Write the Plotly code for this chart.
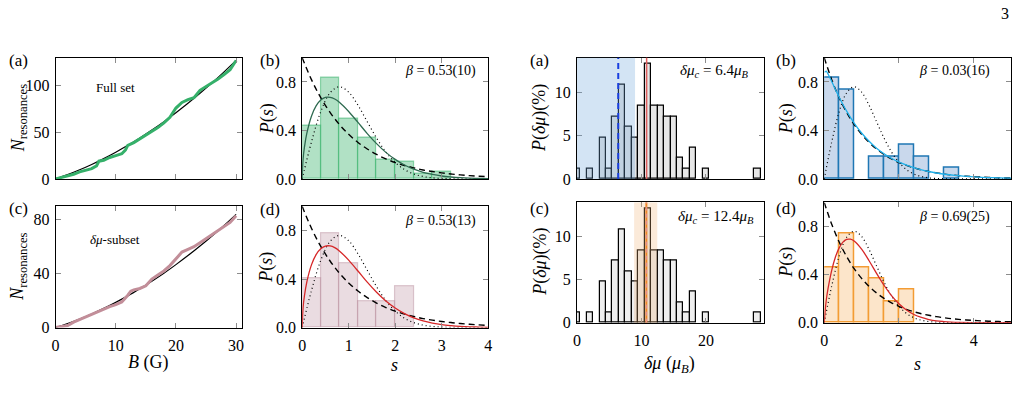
import plotly.graph_objects as go

W, H = 1023, 404
SERIF = "Liberation Serif, DejaVu Serif, serif"

# ---------------- data ----------------
# (a) full set staircase and fit
B_full = [0, 1, 2, 3, 4, 5, 6, 6.8, 7.2, 8, 9, 10, 11, 11.6, 12, 13, 14, 15, 16, 17,
          18, 19, 20, 21, 22, 23, 24, 25, 26, 27, 28, 29, 30]
N_full = [0, 1.5, 3, 5, 7.5, 9, 11, 14, 19, 20, 23, 25, 27, 31, 36, 39, 43, 47, 51, 55,
          60, 66, 76, 82, 85, 87, 95, 99, 103, 107, 112, 117, 127]
B_fit = [0, 2, 4, 6, 8, 10, 12, 14, 16, 18, 20, 22, 24, 26, 28, 30]
N_fit_full = [0, 4.6, 9.8, 15.5, 21.8, 28.6, 36.0, 43.9, 52.4, 61.4, 71.0, 81.1, 91.8, 103.0, 114.8, 127.1]
# (c) delta-mu subset staircase and fit
B_sub = [0, 1, 2, 3, 4, 5, 6, 7, 8, 9, 10, 11, 12, 12.5, 13, 14, 15, 16, 17, 18, 19,
         20, 21, 22, 23, 24, 25, 26, 27, 28, 29, 30]
N_sub = [0, 0.5, 1.5, 4, 6, 8, 10, 12, 13.5, 15.5, 17, 19, 24, 27, 28, 29, 31, 36, 39,
         42, 46, 51, 56, 58, 60, 63, 66, 69, 72, 75, 78, 83]
N_fit_sub = [0, 3.0, 6.35, 10.1, 14.2, 18.7, 23.5, 28.8, 34.4, 40.3, 46.7, 53.4, 60.5, 68.0, 75.8, 84.0]

# spacing distributions
s_grid = [0, 0.2, 0.4, 0.6, 0.8, 1.0, 1.2, 1.4, 1.6, 1.8, 2.0, 2.2, 2.4, 2.6, 2.8, 3.0,
          3.2, 3.4, 3.6, 3.8, 4.0, 4.2, 4.4, 4.6, 4.8, 5.0]
poisson = [1.0, 0.819, 0.670, 0.549, 0.449, 0.368, 0.301, 0.247, 0.202, 0.165, 0.135,
           0.111, 0.091, 0.074, 0.061, 0.050, 0.041, 0.033, 0.027, 0.022, 0.018, 0.015,
           0.012, 0.010, 0.008, 0.007]
wigner = [0, 0.304, 0.554, 0.710, 0.760, 0.716, 0.608, 0.472, 0.337, 0.222, 0.136,
          0.077, 0.041, 0.020, 0.009, 0.004, 0.0016, 0.0006, 0.0002, 0, 0, 0, 0, 0, 0, 0]

s_b053 = [0, 0.02, 0.05, 0.1, 0.2, 0.3, 0.4, 0.5, 0.6, 0.7, 0.8, 1.0, 1.2, 1.4, 1.6, 1.8,
          2.0, 2.2, 2.4, 2.6, 2.8, 3.0, 3.2, 3.4, 3.6, 3.8, 4.0]
P_b053 = [0, 0.164, 0.264, 0.375, 0.517, 0.602, 0.650, 0.672, 0.673, 0.659, 0.632, 0.556,
          0.466, 0.374, 0.291, 0.219, 0.161, 0.115, 0.080, 0.055, 0.037, 0.024, 0.016,
          0.010, 0.006, 0.004, 0.002]
s_b003 = [0.01, 0.05, 0.1, 0.2, 0.4, 0.6, 0.8, 1.0, 1.2, 1.4, 1.6, 1.8, 2.0, 2.5, 3.0,
          3.5, 4.0, 4.5, 5.0]
P_b003 = [0.878, 0.889, 0.866, 0.803, 0.674, 0.559, 0.461, 0.379, 0.311, 0.254, 0.208,
          0.170, 0.138, 0.083, 0.049, 0.029, 0.017, 0.010, 0.006]
s_b069 = [0, 0.05, 0.1, 0.2, 0.3, 0.4, 0.5, 0.6, 0.7, 0.8, 1.0, 1.2, 1.4, 1.6, 1.8, 2.0,
          2.2, 2.4, 2.6, 2.8, 3.0, 3.2, 3.4, 3.6, 4.0, 5.0]
P_b069 = [0, 0.176, 0.280, 0.435, 0.546, 0.622, 0.670, 0.692, 0.694, 0.679, 0.611, 0.515,
          0.410, 0.311, 0.225, 0.157, 0.105, 0.068, 0.043, 0.026, 0.015, 0.009, 0.005,
          0.0025, 0.0006, 0]

s_bins_b = [0.2, 0.6, 1.0, 1.4, 1.8, 2.2, 2.6, 3.0]
P_hist_full = [0.44, 0.835, 0.50, 0.34, 0.16, 0.14, 0.045, 0.06]
s_bins_d = [0.2, 0.6, 1.0, 1.4, 1.8, 2.2]
P_hist_sub = [0.41, 0.78, 0.53, 0.22, 0.22, 0.34]
s_bins_rb = [0.2, 0.6, 1.4, 1.8, 2.2, 2.6, 3.4]
P_hist_rb = [0.835, 0.74, 0.18, 0.18, 0.28, 0.18, 0.09]
s_bins_rd = [0.2, 0.6, 1.0, 1.4, 1.8, 2.2]
P_hist_rd = [0.46, 0.745, 0.46, 0.37, 0.18, 0.28]

# delta-mu histogram (%)
dmu_bins = [0, 2, 4, 5, 6, 7, 8, 9, 10, 11, 12, 13, 14, 15, 16, 17, 18, 20, 28]
dmu_pct = [1.2, 1.2, 4.82, 1.2, 7.23, 10.84, 6.02, 4.82, 8.43, 13.25, 8.43, 8.43, 7.23,
           7.23, 2.41, 1.2, 3.61, 1.2, 1.2]
dmu_c_a = 6.4
dmu_shade_a = [0, 9.0]
dmu_red = 10.8
dmu_band_c = [8.86, 12.45]
dmu_orange = 10.76

# ---------------- layout helpers ----------------
def px(x):
    return x / W

def py(y):
    return 1 - y / H

XD = [[px(52), px(240)], [px(300.5), px(488)], [px(577.5), px(766)], [px(826.7), px(1015)]]
YT = [py(183), py(59)]
YBL = [py(335), py(211)]
YBR = [py(330), py(207)]

fig = go.Figure()

def axstyle(**kw):
    d = dict(showline=True, linecolor="black", linewidth=1, mirror="allticks",
             ticks="inside", ticklen=5, tickwidth=1, tickcolor="#8c8c8c",
             showgrid=False, zeroline=False,
             tickfont=dict(family=SERIF, size=16, color="black"))
    d.update(kw)
    return d

lay = {}
specs = [
    (1, XD[0], YT, [0, 31], [0, 130], [0, 10, 20, 30], [0, 50, 100], False, None),
    (2, XD[1], YT, [0, 4], [0, 1.0], [0, 1, 2, 3, 4], [0, 0.4, 0.8], False, ".1f"),
    (3, XD[2], YT, [0, 29], [0, 14], [0, 10, 20], [0, 5, 10], False, None),
    (4, XD[3], YT, [0, 5], [0, 1.0], [0, 2, 4], [0, 0.4, 0.8], False, ".1f"),
    (5, XD[0], YBL, [0, 31], [0, 90], [0, 10, 20, 30], [0, 40, 80], True, None),
    (6, XD[1], YBL, [0, 4], [0, 1.0], [0, 1, 2, 3, 4], [0, 0.4, 0.8], True, ".1f"),
    (7, XD[2], YBR, [0, 29], [0, 14], [0, 10, 20], [0, 5, 10], True, None),
    (8, XD[3], YBR, [0, 5], [0, 1.0], [0, 2, 4], [0, 0.4, 0.8], True, ".1f"),
]
for i, xd, yd, xr, yr, xt, yt, showx, yfmt in specs:
    sx = "" if i == 1 else str(i)
    xa = axstyle(domain=xd, range=xr, tickvals=xt, showticklabels=showx,
                 anchor="y" + sx, ticklabelstandoff=3)
    ya = axstyle(domain=yd, range=yr, tickvals=yt, anchor="x" + sx, ticklabelstandoff=2)
    if yfmt:
        ya["tickformat"] = yfmt
    lay["xaxis" + sx] = xa
    lay["yaxis" + sx] = ya

def ax(i):
    return ("x", "y") if i == 1 else ("x" + str(i), "y" + str(i))

def line(i, x, y, color, width=1.3, dash="solid", shape="linear"):
    xa, ya = ax(i)
    fig.add_trace(go.Scatter(x=x, y=y, mode="lines", xaxis=xa, yaxis=ya,
                             line=dict(color=color, width=width, dash=dash, shape=shape),
                             showlegend=False, hoverinfo="skip"))

def bars(i, x, y, width, fill, edge, ew=1):
    xa, ya = ax(i)
    fig.add_trace(go.Bar(x=x, y=y, width=width, xaxis=xa, yaxis=ya,
                         marker=dict(color=fill, line=dict(color=edge, width=ew)),
                         showlegend=False, hoverinfo="skip"))

# (a) left: staircase
line(1, B_fit, N_fit_full, "black", 1.2, shape="spline")
line(1, B_full, N_full, "#35b06a", 3)
# (c) left
line(5, B_fit, N_fit_sub, "black", 1.2, shape="spline")
line(5, B_sub, N_sub, "#c28e99", 3)

# (b) left
bars(2, s_bins_b, P_hist_full, 0.4, "rgba(60,180,110,0.40)", "rgba(60,180,110,0.55)", 1.2)
line(2, s_grid, poisson, "black", 1.4, dash="6px,4px", shape="spline")
line(2, s_grid, wigner, "black", 1.2, dash="1px,3px", shape="spline")
line(2, s_b053, P_b053, "#2e6a50", 1.3, shape="spline")
# (d) left
bars(6, s_bins_d, P_hist_sub, 0.4, "rgba(185,140,155,0.30)", "rgba(185,140,155,0.45)", 1.2)
line(6, s_grid, poisson, "black", 1.4, dash="6px,4px", shape="spline")
line(6, s_grid, wigner, "black", 1.2, dash="1px,3px", shape="spline")
line(6, s_b053, P_b053, "#d62728", 1.3, shape="spline")

# right (a) and (c): delta-mu histograms
bars(3, dmu_bins, dmu_pct, 1.0, "#e6e6e6", "black", 1.2)
bars(7, dmu_bins, dmu_pct, 1.0, "#eeeeee", "black", 1.2)

# right (b)
bars(4, s_bins_rb, P_hist_rb, 0.4, "#c9d8ec", "#1f77b4", 1.5)
line(4, s_grid, poisson, "black", 1.4, dash="6px,4px", shape="spline")
line(4, s_grid, wigner, "black", 1.2, dash="1px,3px", shape="spline")
line(4, s_b003, P_b003, "#1fb0ea", 1.3, shape="spline")
# right (d)
bars(8, s_bins_rd, P_hist_rd, 0.4, "#fce5ca", "#f39c34", 1.5)
line(8, s_grid, poisson, "black", 1.4, dash="6px,4px", shape="spline")
line(8, s_grid, wigner, "black", 1.2, dash="1px,3px", shape="spline")
line(8, s_b069, P_b069, "#d62728", 1.3, shape="spline")

shapes = [
    dict(type="rect", xref="x3", yref="y3 domain", x0=dmu_shade_a[0], x1=dmu_shade_a[1],
         y0=0, y1=1, fillcolor="rgba(110,165,220,0.30)", line=dict(width=0), layer="above"),
    dict(type="line", xref="x3", yref="y3 domain", x0=dmu_c_a, x1=dmu_c_a, y0=0, y1=1,
         line=dict(color="#1a3fe0", width=2, dash="6px,4px"), layer="above"),
    dict(type="line", xref="x3", yref="y3 domain", x0=dmu_red, x1=dmu_red, y0=0, y1=1,
         line=dict(color="#e06060", width=1.5), layer="above"),
    dict(type="rect", xref="x7", yref="y7 domain", x0=dmu_band_c[0], x1=dmu_band_c[1],
         y0=0, y1=1, fillcolor="rgba(240,180,120,0.28)", line=dict(width=0), layer="above"),
    dict(type="line", xref="x7", yref="y7 domain", x0=dmu_orange, x1=dmu_orange, y0=0, y1=1,
         line=dict(color="#f08a24", width=2), layer="above"),
    dict(type="line", xref="x7", yref="y7 domain", x0=dmu_orange, x1=dmu_orange, y0=0, y1=1,
         line=dict(color="#e08aa0", width=1, dash="4px,3px"), layer="above"),
]

def ann(x, y, text, size=15, angle=0, xanchor="center", yanchor="middle"):
    return dict(x=px(x), y=py(y), xref="paper", yref="paper", text=text, showarrow=False,
                textangle=angle, xanchor=xanchor, yanchor=yanchor,
                font=dict(family=SERIF, size=size, color="black"))

anns = [
    ann(1009, 14, "3", 16),
    # panel letters
    ann(15, 62, "(a)", 17), ann(15, 213, "(c)", 17),
    ann(268, 62, "(b)", 17), ann(268, 214, "(d)", 17),
    ann(540, 62, "(a)", 17), ann(540, 213, "(c)", 17),
    ann(788, 62, "(b)", 17), ann(788, 213, "(d)", 17),
    # y titles
    ann(15, 121, "<i>N</i><sub>resonances</sub>", 18, -90),
    ann(15, 273, "<i>N</i><sub>resonances</sub>", 18, -90),
    ann(265, 121, "<i>P</i>(<i>s</i>)", 18, -90),
    ann(265, 273, "<i>P</i>(<i>s</i>)", 18, -90),
    ann(540, 121, "<i>P</i>(<i>δμ</i>)(%)", 18, -90),
    ann(540, 268, "<i>P</i>(<i>δμ</i>)(%)", 18, -90),
    ann(788, 121, "<i>P</i>(<i>s</i>)", 18, -90),
    ann(788, 268, "<i>P</i>(<i>s</i>)", 18, -90),
    # x titles
    ann(146, 371, "<i>B</i> (G)", 18),
    ann(394, 373, "<i>s</i>", 18),
    ann(671, 373, "<i>δμ</i> (<i>μ</i><sub><i>B</i></sub>)", 18),
    ann(921, 372, "<i>s</i>", 18),
    # in-panel texts
    ann(112, 90, "Full set", 13),
    ann(112, 245, "<i>δμ</i>-subset", 13),
    ann(440, 73, "<i>β</i> = 0.53(10)", 14),
    ann(440, 226, "<i>β</i> = 0.53(13)", 14),
    ann(716, 73, "<i>δμ</i><sub><i>c</i></sub> = 6.4<i>μ</i><sub><i>B</i></sub>", 15),
    ann(718, 222, "<i>δμ</i><sub><i>c</i></sub> = 12.4<i>μ</i><sub><i>B</i></sub>", 15),
    ann(958, 73, "<i>β</i> = 0.03(16)", 14),
    ann(958, 222, "<i>β</i> = 0.69(25)", 14),
]

fig.update_layout(width=W, height=H, autosize=False,
                  margin=dict(l=0, r=0, t=0, b=0),
                  paper_bgcolor="white", plot_bgcolor="white",
                  bargap=0, barmode="overlay",
                  shapes=shapes, annotations=anns, **lay)

fig.write_html("out.html")
